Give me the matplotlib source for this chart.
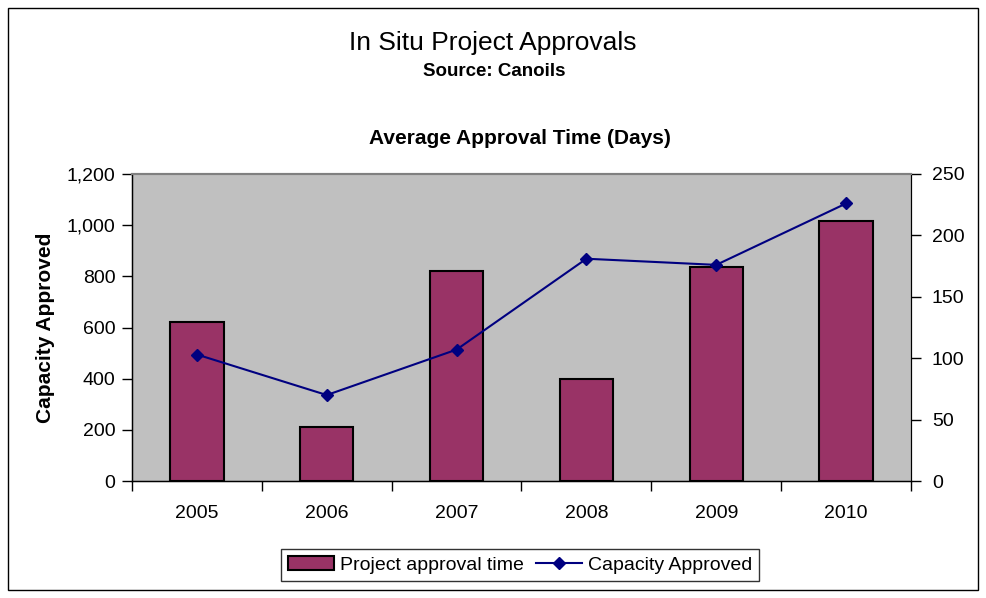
import matplotlib
matplotlib.use("Agg")
import matplotlib.pyplot as plt
from matplotlib.patches import Rectangle
import numpy as np

plt.rcParams['font.family'] = ['Liberation Sans', 'DejaVu Sans']

years = ["2005", "2006", "2007", "2008", "2009", "2010"]
approval_time = [621, 211, 821, 399, 837, 1016]
capacity = [103, 70, 107, 181, 176, 226]
left_ticks = [0, 200, 400, 600, 800, 1000, 1200]
right_ticks = [0, 50, 100, 150, 200, 250]

fig = plt.figure(figsize=(9.87, 5.98), dpi=100)
ax = fig.add_axes([132/987, 1-481/598, (911-132)/987, (481-174)/598])
ax.set_facecolor('#C0C0C0')
x = np.arange(len(years))
ax.bar(x, approval_time, width=0.41, color='#993366', edgecolor='black',
       linewidth=1.5, label='Project approval time', zorder=2)
ax.set_xlim(-0.5, len(years)-0.5)
ax.set_ylim(0, 1200)
ax.set_yticks(left_ticks)
ax.set_yticklabels([f"{v:,}" for v in left_ticks], fontsize=14)
ax.set_xticks(np.arange(-0.5, len(years)), minor=False)
ax.set_xticklabels([])
ax.set_xticks(x, minor=True)
ax.set_xticklabels(years, minor=True, fontsize=14)
ax.tick_params(axis='x', which='minor', length=0, pad=17)
ax.tick_params(axis='x', which='major', length=7, width=1, direction='out')
ax.tick_params(axis='y', length=7, width=1, direction='out', pad=5)
ax.set_ylabel('Capacity Approved', fontsize=15, fontweight='bold', labelpad=8)
for s in ['left', 'bottom']:
    ax.spines[s].set_linewidth(1)
    ax.spines[s].set_color('black')
ax.spines['top'].set_color('#808080')
ax.spines['top'].set_linewidth(1.5)

ax2 = ax.twinx()
ax2.plot(x, capacity, color='#000080', marker='D', markersize=6,
         linewidth=1.5, label='Capacity Approved', zorder=3)
ax2.set_ylim(0, 250)
ax2.set_yticks(right_ticks)
ax2.set_yticklabels([str(v) for v in right_ticks], fontsize=14)
ax2.tick_params(axis='y', length=7, width=1, direction='out', pad=8)
ax2.spines['right'].set_color('black')
ax2.spines['top'].set_color('#808080')
ax2.spines['top'].set_linewidth(1.5)

fig.text(493/987, 1-43/598, 'In Situ Project Approvals', ha='center', va='center', fontsize=19)
fig.text(494/987, 1-71/598, 'Source: Canoils', ha='center', va='center', fontsize=13.5, fontweight='bold')
fig.text(520/987, 1-138/598, 'Average Approval Time (Days)', ha='center', va='center', fontsize=15, fontweight='bold')

h1, l1 = ax.get_legend_handles_labels()
h2, l2 = ax2.get_legend_handles_labels()
leg = fig.legend(h1+h2, l1+l2, loc='center', bbox_to_anchor=(520/987, 1-565/598),
                 ncol=2, fontsize=14, frameon=True, fancybox=False, edgecolor='black',
                 handlelength=2.4, handletextpad=0.3, columnspacing=0.6, borderpad=0.35)
leg.get_frame().set_linewidth(1)

fig.patches.append(Rectangle((8/987, 8/598), (978-8)/987, (590-8)/598, transform=fig.transFigure,
                             fill=False, edgecolor='black', linewidth=1))

fig.savefig('out.png', dpi=100)
